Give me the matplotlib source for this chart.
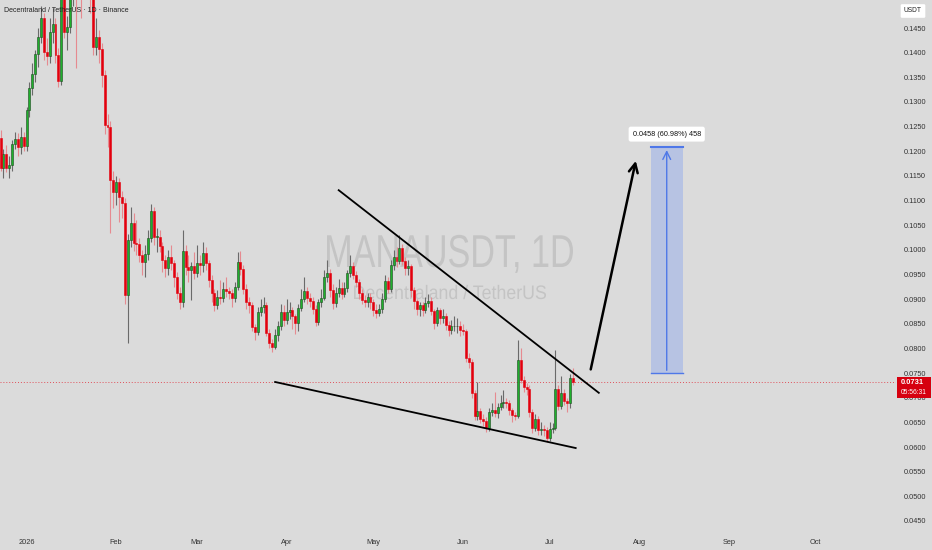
import numpy as np
import pandas as pd
import matplotlib
matplotlib.use("Agg")
import matplotlib.pyplot as plt
import matplotlib.dates as mdates
from matplotlib.patches import Rectangle, PathPatch
from matplotlib.textpath import TextPath
from matplotlib.font_manager import FontProperties
from matplotlib.transforms import Affine2D, IdentityTransform

plt.rcParams['font.family'] = ['Liberation Sans', 'DejaVu Sans']

# MANA/USDT daily candles
start_date = "2025-12-23"
first_open = 0.1226
closes = [
    0.1167, 0.1194, 0.1167, 0.1172, 0.1215, 0.1225, 0.1209, 0.1229, 0.1211, 0.1284,
    0.1328, 0.1357, 0.1397, 0.1432, 0.1470, 0.1401, 0.1393, 0.1442, 0.1458, 0.1395,
    0.1343, 0.1515, 0.1442, 0.1452, 0.1530, 0.1560, 0.1535, 0.1570, 0.1545, 0.1580,
    0.1550, 0.1520, 0.1411, 0.1432, 0.1407, 0.1355, 0.1253, 0.1249, 0.1142, 0.1117,
    0.1138, 0.1107, 0.1095, 0.0908, 0.1020, 0.1054, 0.1014, 0.1012, 0.0990, 0.0975,
    0.0992, 0.1024, 0.1079, 0.1026, 0.1027, 0.1008, 0.0979, 0.0963, 0.0985, 0.0973,
    0.0945, 0.0912, 0.0894, 0.0998, 0.0965, 0.0959, 0.0967, 0.0953, 0.0973, 0.0969,
    0.0994, 0.0973, 0.0939, 0.0912, 0.0888, 0.0904, 0.0903, 0.0921, 0.0916, 0.0912,
    0.0902, 0.0925, 0.0975, 0.0961, 0.0921, 0.0894, 0.0888, 0.0843, 0.0833, 0.0874,
    0.0884, 0.0888, 0.0832, 0.0811, 0.0803, 0.0827, 0.0845, 0.0874, 0.0858, 0.0874,
    0.0878, 0.0866, 0.0852, 0.0882, 0.0900, 0.0917, 0.0902, 0.0896, 0.0880, 0.0854,
    0.0894, 0.0902, 0.0945, 0.0953, 0.0919, 0.0892, 0.0912, 0.0923, 0.0910, 0.0922,
    0.0953, 0.0967, 0.0950, 0.0934, 0.0912, 0.0899, 0.0894, 0.0904, 0.0894, 0.0878,
    0.0872, 0.0880, 0.0900, 0.0937, 0.0921, 0.0969, 0.0985, 0.0978, 0.1003, 0.0977,
    0.0963, 0.0967, 0.0919, 0.0896, 0.0880, 0.0888, 0.0878, 0.0892, 0.0896, 0.0876,
    0.0852, 0.0878, 0.0862, 0.0866, 0.0847, 0.0837, 0.0845, 0.0845, 0.0846, 0.0837,
    0.0835, 0.0780, 0.0772, 0.0709, 0.0663, 0.0673, 0.0657, 0.0652, 0.0639, 0.0671,
    0.0675, 0.0669, 0.0681, 0.0689, 0.0691, 0.0690, 0.0675, 0.0665, 0.0663, 0.0777,
    0.0736, 0.0722, 0.0718, 0.0671, 0.0639, 0.0657, 0.0635, 0.0637, 0.0634, 0.0618,
    0.0637, 0.0639, 0.0718, 0.0683, 0.0710, 0.0693, 0.0689, 0.0740, 0.0731,
]
highs = [
    0.1243, 0.1205, 0.1212, 0.1190, 0.1222, 0.1240, 0.1238, 0.1250, 0.1240, 0.1290,
    0.1340, 0.1380, 0.1405, 0.1450, 0.1495, 0.1480, 0.1430, 0.1470, 0.1490, 0.1470,
    0.1410, 0.1530, 0.1540, 0.1475, 0.1545, 0.1590, 0.1580, 0.1600, 0.1590, 0.1610,
    0.1600, 0.1570, 0.1540, 0.1470, 0.1445, 0.1420, 0.1365, 0.1275, 0.1262, 0.1160,
    0.1150, 0.1145, 0.1120, 0.1105, 0.1032, 0.1087, 0.1075, 0.1060, 0.1025, 0.1000,
    0.1010, 0.1040, 0.1092, 0.1086, 0.1045, 0.1040, 0.1015, 0.0990, 0.1000, 0.1010,
    0.0980, 0.0955, 0.0925, 0.1040, 0.1010, 0.0990, 0.0975, 0.0995, 0.1010, 0.0990,
    0.1015, 0.1005, 0.0980, 0.0950, 0.0920, 0.0918, 0.0938, 0.0935, 0.0945, 0.0925,
    0.0920, 0.0935, 0.0995, 0.0998, 0.0970, 0.0930, 0.0905, 0.0895, 0.0850, 0.0885,
    0.0900, 0.0905, 0.0895, 0.0840, 0.0820, 0.0840, 0.0855, 0.0890, 0.0888, 0.0900,
    0.0895, 0.0885, 0.0870, 0.0890, 0.0920, 0.0945, 0.0925, 0.0912, 0.0905, 0.0888,
    0.0900, 0.0920, 0.0960, 0.0980, 0.0962, 0.0930, 0.0925, 0.0940, 0.0935, 0.0935,
    0.0960, 0.0990, 0.0975, 0.0958, 0.0940, 0.0920, 0.0908, 0.0912, 0.0912, 0.0900,
    0.0890, 0.0890, 0.0912, 0.0950, 0.0945, 0.0980, 0.1000, 0.1005, 0.1030, 0.1012,
    0.0985, 0.0980, 0.0972, 0.0925, 0.0900, 0.0895, 0.0895, 0.0905, 0.0910, 0.0905,
    0.0880, 0.0885, 0.0882, 0.0880, 0.0872, 0.0855, 0.0858, 0.0865, 0.0862, 0.0855,
    0.0850, 0.0840, 0.0790, 0.0778, 0.0715, 0.0731, 0.0680, 0.0668, 0.0660, 0.0680,
    0.0690, 0.0712, 0.0690, 0.0705, 0.0716, 0.0700, 0.0695, 0.0680, 0.0672, 0.0817,
    0.0800, 0.0745, 0.0730, 0.0725, 0.0678, 0.0668, 0.0662, 0.0650, 0.0645, 0.0640,
    0.0650, 0.0648, 0.0797, 0.0725, 0.0745, 0.0718, 0.0700, 0.0748, 0.0760,
]
lows = [
    0.1160, 0.1146, 0.1158, 0.1146, 0.1160, 0.1205, 0.1190, 0.1195, 0.1200, 0.1200,
    0.1270, 0.1315, 0.1340, 0.1370, 0.1420, 0.1385, 0.1375, 0.1380, 0.1420, 0.1380,
    0.1330, 0.1335, 0.1430, 0.1405, 0.1440, 0.1495, 0.1369, 0.1510, 0.1470, 0.1525,
    0.1520, 0.1480, 0.1395, 0.1395, 0.1380, 0.1330, 0.1235, 0.1209, 0.1034, 0.1085,
    0.1090, 0.1057, 0.1065, 0.0890, 0.0811, 0.1005, 0.0998, 0.0990, 0.0975, 0.0950,
    0.0945, 0.0980, 0.1015, 0.1010, 0.0995, 0.0995, 0.0955, 0.0945, 0.0950, 0.0960,
    0.0925, 0.0900, 0.0880, 0.0885, 0.0950, 0.0935, 0.0898, 0.0940, 0.0945, 0.0950,
    0.0955, 0.0960, 0.0925, 0.0895, 0.0875, 0.0880, 0.0890, 0.0895, 0.0905, 0.0900,
    0.0885, 0.0895, 0.0918, 0.0950, 0.0910, 0.0880, 0.0872, 0.0835, 0.0818, 0.0828,
    0.0865, 0.0872, 0.0825, 0.0800, 0.0793, 0.0798, 0.0815, 0.0838, 0.0845, 0.0850,
    0.0860, 0.0840, 0.0830, 0.0835, 0.0875, 0.0895, 0.0890, 0.0885, 0.0870, 0.0845,
    0.0848, 0.0885, 0.0898, 0.0935, 0.0905, 0.0880, 0.0885, 0.0905, 0.0900, 0.0905,
    0.0915, 0.0945, 0.0940, 0.0925, 0.0900, 0.0890, 0.0885, 0.0885, 0.0880, 0.0865,
    0.0862, 0.0865, 0.0872, 0.0895, 0.0912, 0.0915, 0.0960, 0.0965, 0.0972, 0.0970,
    0.0950, 0.0950, 0.0905, 0.0880, 0.0868, 0.0866, 0.0865, 0.0872, 0.0885, 0.0868,
    0.0840, 0.0845, 0.0850, 0.0852, 0.0838, 0.0825, 0.0830, 0.0835, 0.0832, 0.0825,
    0.0828, 0.0772, 0.0760, 0.0700, 0.0655, 0.0655, 0.0648, 0.0642, 0.0630, 0.0632,
    0.0662, 0.0660, 0.0658, 0.0675, 0.0680, 0.0680, 0.0665, 0.0650, 0.0655, 0.0658,
    0.0730, 0.0712, 0.0705, 0.0660, 0.0628, 0.0632, 0.0625, 0.0625, 0.0622, 0.0610,
    0.0612, 0.0628, 0.0635, 0.0675, 0.0678, 0.0685, 0.0672, 0.0680, 0.0725,
]

# drawings on the chart
upper_line = (["2026-04-19", "2026-07-18"], [0.1121, 0.0710])
lower_line = (["2026-03-28", "2026-07-10"], [0.0732, 0.0598])
arrow_from = ("2026-07-15", 0.0752)
arrow_to = ("2026-07-31", 0.1186)
target_dates = ("2026-08-05", "2026-08-16")
target_prices = (0.0750, 0.1208)
target_text = "0.0458 (60.98%) 458"
last_price = 0.0731
countdown = "05:56:31"

month_ticks = ["2026-01-01", "2026-02-01", "2026-03-01", "2026-04-01", "2026-05-01",
               "2026-06-01", "2026-07-01", "2026-08-01", "2026-09-01", "2026-10-01"]
month_labels = ["2026", "Feb", "Mar", "Apr", "May", "Jun", "Jul", "Aug", "Sep", "Oct"]
price_ticks = [0.0450, 0.0500, 0.0550, 0.0600, 0.0650, 0.0700, 0.0750, 0.0800, 0.0850,
               0.0900, 0.0950, 0.1000, 0.1050, 0.1100, 0.1150, 0.1200, 0.1250, 0.1300,
               0.1350, 0.1400, 0.1450]

BG = '#dbdbdb'
UP, DOWN = '#1fb02c', '#e3000e'
UP_WICK, DOWN_WICK = '#6a6a6a', '#e68a90'

W, H = 932, 550
fig = plt.figure(figsize=(W / 100, H / 100), dpi=100, facecolor=BG)
ax = fig.add_axes([0, 22 / H, 896 / W, 528 / H], facecolor=BG)


# condensed watermark text, drawn as a path in pixel space (y from the top)
def squeezed(s, left, baseline, cap_px, width_px, color):
    tp = TextPath((0, 0), s, size=cap_px / 0.716, prop=FontProperties(family='Liberation Sans'))
    bb = tp.get_extents()
    tr = Affine2D().translate(-bb.x0, 0).scale(width_px / bb.width, 1).translate(left, H - baseline)
    ax.add_patch(PathPatch(tr.transform_path(tp), transform=IdentityTransform(),
                           facecolor=color, edgecolor='none', zorder=1))


dates = pd.date_range(start_date, periods=len(closes), freq="D")
x = mdates.date2num(dates)
c = np.array(closes)
o = np.r_[first_open, c[:-1]]
hi = np.array(highs)
lo = np.array(lows)
up = c >= o

# wicks then bodies
ax.vlines(x[up], lo[up], hi[up], color=UP_WICK, lw=0.8, zorder=3)
ax.vlines(x[~up], lo[~up], hi[~up], color=DOWN_WICK, lw=0.8, zorder=3)
body = np.maximum(np.abs(c - o), 0.00012)
ax.bar(x[up], body[up], bottom=np.minimum(o, c)[up], width=0.68, color=UP,
       edgecolor='#1d4a20', linewidth=0.4, zorder=4)
ax.bar(x[~up], body[~up], bottom=np.minimum(o, c)[~up], width=0.68, color=DOWN,
       edgecolor=DOWN, linewidth=0.4, zorder=4)

# watermark
squeezed("MANAUSDT, 1D", 327, 267, 33, 246, '#c4c4c4')
squeezed("Decentraland / TetherUS", 354, 299, 14, 192, '#c4c4c4')

# trend lines
for pts in (upper_line, lower_line):
    ax.plot(mdates.datestr2num(pts[0]), pts[1], color='black', lw=1.3, zorder=5)

# projection arrow
ax.annotate("", xy=(mdates.datestr2num(arrow_to[0]), arrow_to[1]),
            xytext=(mdates.datestr2num(arrow_from[0]), arrow_from[1]),
            arrowprops=dict(arrowstyle='->', color='black', lw=1.8, mutation_scale=16),
            zorder=5)

# target box
tx0, tx1 = mdates.datestr2num(target_dates[0]), mdates.datestr2num(target_dates[1])
ax.add_patch(Rectangle((tx0, target_prices[0]), tx1 - tx0, target_prices[1] - target_prices[0],
                       facecolor='#b7c3e3', edgecolor='none', zorder=2))
ax.plot([tx0, tx1], [target_prices[1]] * 2, color='#4f78e8', lw=1.5, zorder=3)
ax.plot([tx0, tx1], [target_prices[0]] * 2, color='#4f78e8', lw=1.0, zorder=3)
ax.annotate("", xy=((tx0 + tx1) / 2, target_prices[1]), xytext=((tx0 + tx1) / 2, target_prices[0]),
            arrowprops=dict(arrowstyle='->', color='#4f78e8', lw=1.0, mutation_scale=14), zorder=3)
ax.annotate(target_text, xy=((tx0 + tx1) / 2, target_prices[1]), xytext=(0, 9.5),
            textcoords='offset points', ha='center', va='center', fontsize=5.2, color='#111111',
            bbox=dict(boxstyle='round,pad=0.55,rounding_size=0.3', fc='white', ec='none'), zorder=6)

# last price dotted line
ax.axhline(last_price, color='#e0505a', lw=0.7, ls=(0, (1, 2)), zorder=2)

x_left = mdates.datestr2num("2025-12-22") + 0.8
ax.set_xlim(x_left, x_left + 896 / 2.89)
ax.set_ylim(0.04358, 0.15068)
ax.set_xticks(mdates.datestr2num(month_ticks))
ax.set_xticklabels(month_labels)
ax.set_yticks(price_ticks)
ax.set_yticklabels([f"{p:.4f}" for p in price_ticks])
ax.yaxis.tick_right()
ax.tick_params(axis='y', length=0, pad=5.5, labelsize=5.3, labelcolor='#333333')
ax.tick_params(axis='x', length=0, pad=8, labelsize=5.3, labelcolor='#333333')
for s in ax.spines.values():
    s.set_visible(False)

# header and price-scale badges
fig.text(4 / W, 1 - 10 / H, "Decentraland / TetherUS · 1D · Binance", fontsize=5.0,
         color='#222222', va='center', ha='left')
fig.text(913 / W, 1 - 11 / H, "USDT", fontsize=4.8, color='#222222', ha='center', va='center',
         bbox=dict(boxstyle='round,pad=0.5,rounding_size=0.2', fc='white', ec='none'))
fig.patches.append(Rectangle((897 / W, 1 - 398 / H), 34 / W, 21 / H, transform=fig.transFigure,
                             facecolor='#d6000f', edgecolor='none'))
fig.text(901 / W, 1 - 382.5 / H, f"{last_price:.4f}", fontsize=5.4, color='white', va='center',
         ha='left', fontweight='bold')
fig.text(901 / W, 1 - 392.5 / H, countdown, fontsize=4.8, color='white', va='center', ha='left')

fig.savefig("out.png", dpi=100, facecolor=BG)
